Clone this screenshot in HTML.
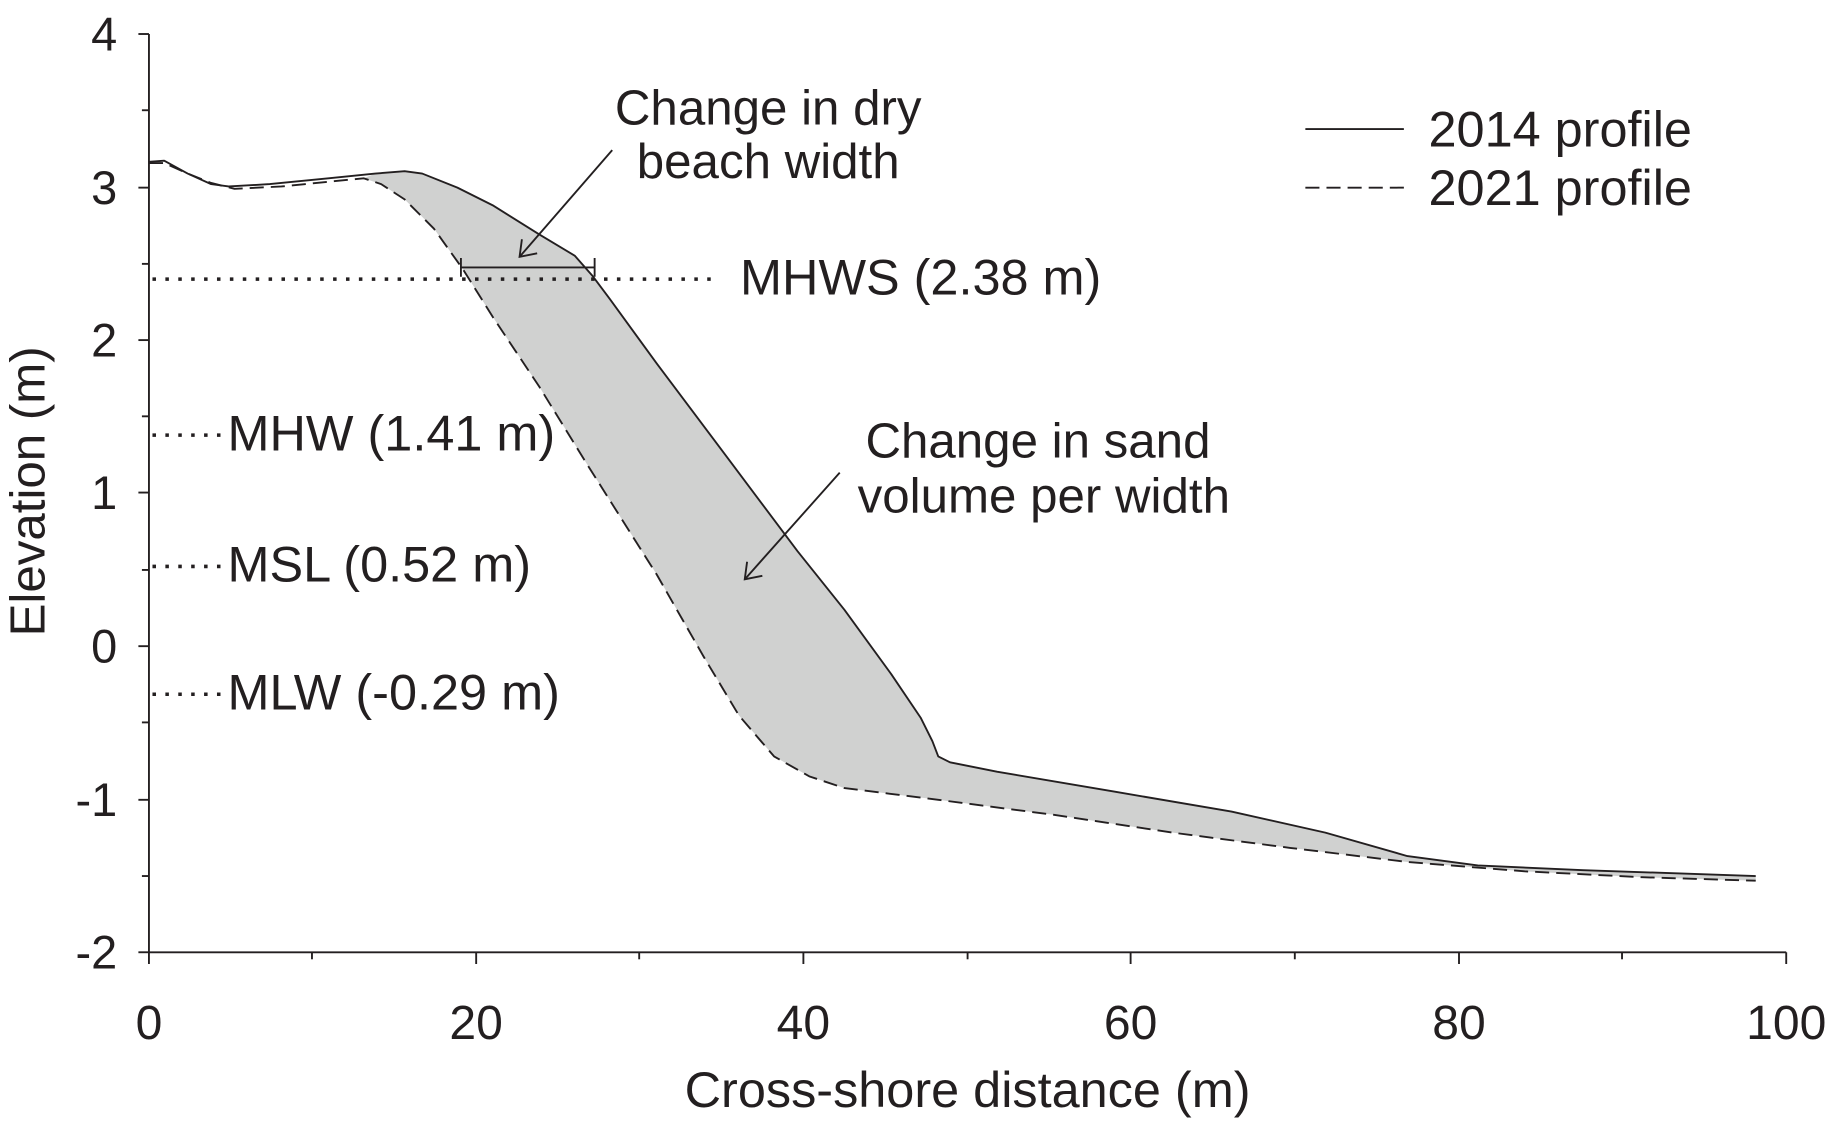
<!DOCTYPE html>
<html><head><meta charset="utf-8"><style>html,body{margin:0;padding:0;background:#fff}svg{display:block}</style></head>
<body>
<svg width="1839" height="1127" viewBox="0 0 1568 961" preserveAspectRatio="none" xmlns="http://www.w3.org/2000/svg" font-family="Liberation Sans, Arial, sans-serif" fill="#231f20">
<polygon fill="#d0d1d0" stroke="none" points="310,152 320,148 345,146 360,148 390,160 420,175 460,200 490,218 505,235 520,255 560,310 620,390 680,470 720,520 760,575 785,612 795,632 800,645 810,650 850,658 950,675 1050,692 1130,710 1200,730 1260,738 1350,742 1497,747 1497,751 1400,748 1300,743 1200,735 1100,723 1000,710 900,695 800,682 720,672 690,662 660,645 630,610 600,560 560,490 500,395 460,330 420,270 395,230 370,195 345,170 325,157 310,152"/>
<polyline fill="none" stroke="#231f20" stroke-width="1.6" stroke-linejoin="round" points="127,138 140,137 160,148 180,157 195,159 230,157 280,152 320,148 345,146 360,148 390,160 420,175 460,200 490,218 505,235 520,255 560,310 620,390 680,470 720,520 760,575 785,612 795,632 800,645 810,650 850,658 950,675 1050,692 1130,710 1200,730 1260,738 1350,742 1497,747"/>
<polyline fill="none" stroke="#231f20" stroke-width="1.6" stroke-linejoin="round" stroke-dasharray="12,6" points="127,139 140,139 160,148 180,156 200,161 240,159 280,155 310,152 325,157 345,170 370,195 395,230 420,270 460,330 500,395 560,490 600,560 630,610 660,645 690,662 720,672 800,682 900,695 1000,710 1100,723 1200,735 1300,743 1400,748 1497,751"/>
<g stroke="#231f20" stroke-width="3" stroke-dasharray="3,8" fill="none">
<line x1="130" y1="238" x2="610" y2="238"/>
<line x1="130" y1="371" x2="190" y2="371"/>
<line x1="130" y1="483" x2="190" y2="483"/>
<line x1="130" y1="592" x2="190" y2="592"/>
</g>
<g stroke="#231f20" stroke-width="1.6" fill="none">
<line x1="393" y1="228" x2="507" y2="228"/><line x1="393" y1="220" x2="393" y2="236"/><line x1="507" y1="220" x2="507" y2="236"/>
<line x1="522" y1="128" x2="443" y2="219"/><polyline points="445,204 443,219 458,216"/>
<line x1="716" y1="403" x2="635" y2="494"/><polyline points="637,479 635,494 650,491"/>
<line x1="127" y1="29" x2="127" y2="812"/><line x1="127" y1="812" x2="1523" y2="812"/>
<line x1="118" y1="29" x2="127" y2="29"/><line x1="121" y1="94" x2="127" y2="94"/>
<line x1="118" y1="160" x2="127" y2="160"/><line x1="121" y1="225" x2="127" y2="225"/>
<line x1="118" y1="290" x2="127" y2="290"/><line x1="121" y1="355" x2="127" y2="355"/>
<line x1="118" y1="420" x2="127" y2="420"/><line x1="121" y1="486" x2="127" y2="486"/>
<line x1="118" y1="551" x2="127" y2="551"/><line x1="121" y1="616" x2="127" y2="616"/>
<line x1="118" y1="682" x2="127" y2="682"/><line x1="121" y1="747" x2="127" y2="747"/>
<line x1="118" y1="812" x2="127" y2="812"/>
<line x1="127" y1="812" x2="127" y2="822"/><line x1="266" y1="812" x2="266" y2="818"/>
<line x1="406" y1="812" x2="406" y2="822"/><line x1="545" y1="812" x2="545" y2="818"/>
<line x1="685" y1="812" x2="685" y2="822"/><line x1="825" y1="812" x2="825" y2="818"/>
<line x1="964" y1="812" x2="964" y2="822"/><line x1="1104" y1="812" x2="1104" y2="818"/>
<line x1="1244" y1="812" x2="1244" y2="822"/><line x1="1383" y1="812" x2="1383" y2="818"/>
<line x1="1523" y1="812" x2="1523" y2="822"/>
<line x1="1113" y1="110" x2="1197" y2="110"/>
<line x1="1113" y1="160" x2="1197" y2="160" stroke-dasharray="12,6"/>
</g>
<g font-size="40" text-anchor="end">
<text x="100" y="43">4</text><text x="100" y="174">3</text><text x="100" y="304">2</text><text x="100" y="434">1</text><text x="100" y="565">0</text><text x="100" y="696">-1</text><text x="100" y="826">-2</text>
</g>
<g font-size="41" text-anchor="middle">
<text x="127" y="886">0</text><text x="406" y="886">20</text><text x="685" y="886">40</text><text x="964" y="886">60</text><text x="1244" y="886">80</text><text x="1523" y="886">100</text>
<text x="825" y="944" font-size="43">Cross-shore distance (m)</text>
<text transform="translate(38,419) rotate(-90)" font-size="42">Elevation (m)</text>
<text x="655" y="106" font-size="42">Change in dry</text>
<text x="655" y="152" font-size="42">beach width</text>
<text x="885" y="390" font-size="42">Change in sand</text>
<text x="890" y="437" font-size="42">volume per width</text>
</g>
<g font-size="43">
<text x="631" y="251">MHWS (2.38 m)</text>
<text x="194" y="384">MHW (1.41 m)</text>
<text x="194" y="496">MSL (0.52 m)</text>
<text x="194" y="605">MLW (-0.29 m)</text>
<text x="1218" y="125">2014 profile</text>
<text x="1218" y="175">2021 profile</text>
</g>
</svg>
</body></html>
